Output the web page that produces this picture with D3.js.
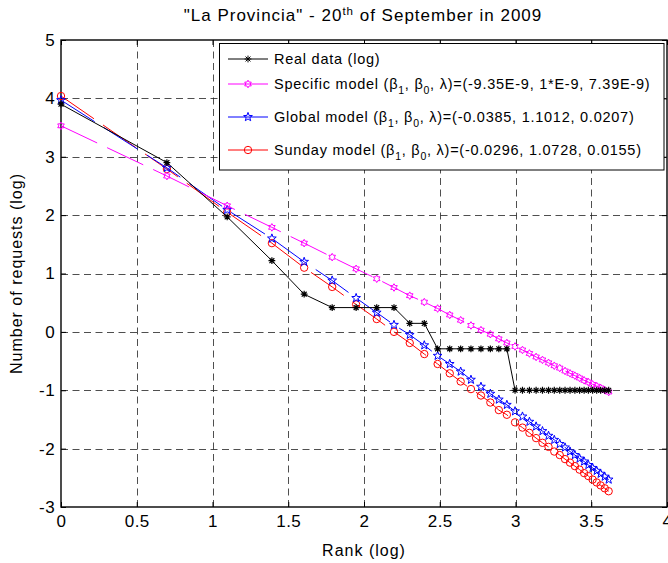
<!DOCTYPE html>
<html>
<head>
<meta charset="utf-8">
<script src="https://cdn.jsdelivr.net/npm/d3@7"></script>
<style>
    body { margin: 0; background: #fff; }
    text { font-family: "Liberation Sans", Arial, sans-serif; fill: #000; }
    .grid line { stroke: #222; stroke-width: 0.8; stroke-dasharray: 7,4.5; }
    .model { fill: none; stroke-width: 1; stroke-dasharray: 40,11; }
</style>
</head>
<body>
<div id="chart"></div>
<script>
// Data
// ============================================================================
const rankLog = [0, 0.699, 1.097, 1.392, 1.605, 1.79, 1.948, 2.084, 2.198, 2.302,
    2.398, 2.486, 2.566, 2.638, 2.706, 2.772, 2.834, 2.89, 2.943, 2.997,
    3.046, 3.092, 3.136, 3.178, 3.218, 3.256, 3.292, 3.327, 3.36, 3.392,
    3.423, 3.453, 3.481, 3.509, 3.536, 3.562, 3.589, 3.615];

const realData = [3.9, 2.9, 1.97, 1.22, 0.645, 0.416, 0.416, 0.416, 0.416, 0.146,
    0.146, -0.29, -0.29, -0.29, -0.29, -0.29, -0.29, -0.29, -0.29, -1,
    -1, -1, -1, -1, -1, -1, -1, -1, -1, -1,
    -1, -1, -1, -1, -1, -1, -1, -1];

const specificModel = [3.53, 2.67, 2.16, 1.79, 1.52, 1.28, 1.08, 0.91, 0.76, 0.62,
    0.51, 0.4, 0.29, 0.2, 0.11, 0.03, -0.04, -0.12, -0.19, -0.25,
    -0.31, -0.37, -0.43, -0.48, -0.53, -0.58, -0.62, -0.67, -0.71, -0.75,
    -0.79, -0.83, -0.86, -0.9, -0.93, -0.96, -1, -1.03];

const globalModel = [3.97, 2.81, 2.09, 1.6, 1.2, 0.88, 0.58, 0.33, 0.12, -0.05,
    -0.23, -0.41, -0.55, -0.68, -0.82, -0.94, -1.06, -1.16, -1.25, -1.36,
    -1.45, -1.54, -1.62, -1.7, -1.78, -1.85, -1.92, -1.98, -2.05, -2.11,
    -2.17, -2.22, -2.28, -2.33, -2.38, -2.43, -2.48, -2.53];

const sundayModel = [4.04, 2.79, 2.05, 1.52, 1.1, 0.77, 0.47, 0.22, 0.0, -0.19,
    -0.38, -0.55, -0.71, -0.85, -0.98, -1.09, -1.21, -1.34, -1.42, -1.55,
    -1.64, -1.73, -1.82, -1.9, -1.97, -2.05, -2.11, -2.18, -2.24, -2.3,
    -2.36, -2.42, -2.47, -2.53, -2.58, -2.63, -2.68, -2.73];

const xTicks = [0, 0.5, 1, 1.5, 2, 2.5, 3, 3.5, 4];
const yTicks = [-3, -2, -1, 0, 1, 2, 3, 4, 5];

// Define variables
// ============================================================================
const width = 668,
    height = 563,
    plot = {left: 61, right: 667, top: 40, bottom: 507};

// Marker paths
// ============================================================================
function asterisk(r) {
    const d = r * 0.72;
    return `M${-r},0L${r},0M0,${-r}L0,${r}M${-d},${-d}L${d},${d}M${-d},${d}L${d},${-d}`;
}
function starPath(points, rOut, rIn) {
    let p = "";
    for (let i = 0; i < points * 2; i++) {
        const r = i % 2 === 0 ? rOut : rIn;
        const a = -Math.PI / 2 + i * Math.PI / points;
        p += (i === 0 ? "M" : "L") + (r * Math.cos(a)).toFixed(2) + "," + (r * Math.sin(a)).toFixed(2);
    }
    return p + "Z";
}
function circle(r) {
    return `M${r},0A${r},${r} 0 1,1 ${-r},0A${r},${r} 0 1,1 ${r},0Z`;
}

const series = [
    {name: "Real data (log)", values: realData, color: "#000", marker: asterisk(3.4), model: false},
    {name: "Specific", values: specificModel, color: "#ff00ff", marker: starPath(6, 3.8, 2.2), model: true,
        label: ["Specific model (β", "1", ", β", "0", ", λ)=(-9.35E-9, 1*E-9, 7.39E-9)"]},
    {name: "Global", values: globalModel, color: "#0000ff", marker: starPath(5, 4.6, 1.9), model: true,
        label: ["Global model (β", "1", ", β", "0", ", λ)=(-0.0385, 1.1012, 0.0207)"]},
    {name: "Sunday", values: sundayModel, color: "#ff0000", marker: circle(3.7), model: true,
        label: ["Sunday model (β", "1", ", β", "0", ", λ)=(-0.0296, 1.0728, 0.0155)"]},
];

// Plot
// ============================================================================
const svg = d3.select("#chart")
    .append("svg")
        .attr("width", width)
        .attr("height", height);

// Scales
const xScale = d3.scaleLinear()
    .domain([0, 4])
    .range([plot.left, plot.right]);

const yScale = d3.scaleLinear()
    .domain([-3, 5])
    .range([plot.bottom, plot.top]);

// Grid
const grid = svg.append("g").attr("class", "grid");
grid.selectAll(".gx")
    .data(xTicks.slice(1, -1))
    .join("line")
        .attr("x1", d => Math.round(xScale(d)) + 0.5)
        .attr("x2", d => Math.round(xScale(d)) + 0.5)
        .attr("y1", plot.top)
        .attr("y2", plot.bottom);
grid.selectAll(".gy")
    .data(yTicks.slice(1, -1))
    .join("line")
        .attr("class", "gy")
        .attr("y1", d => Math.round(yScale(d)) + 0.5)
        .attr("y2", d => Math.round(yScale(d)) + 0.5)
        .attr("x1", plot.left)
        .attr("x2", plot.right);

// Axes (MATLAB style: ticks inside, box all round)
const fmt = d => String(d);
const styleTicks = g => g.selectAll("text")
    .style("font-size", "17px")
    .style("letter-spacing", "0.4px");

svg.append("g")
    .attr("transform", "translate(0," + plot.bottom + ")")
    .call(d3.axisBottom(xScale).tickValues(xTicks).tickSizeInner(-5).tickSizeOuter(0)
        .tickPadding(8).tickFormat(fmt))
    .call(g => g.select(".domain").remove())
    .call(styleTicks);

svg.append("g")
    .attr("transform", "translate(" + plot.left + ",0)")
    .call(d3.axisLeft(yScale).tickValues(yTicks).tickSizeInner(-5).tickSizeOuter(0)
        .tickPadding(6).tickFormat(fmt))
    .call(g => g.select(".domain").remove())
    .call(styleTicks);

svg.append("g")
    .attr("transform", "translate(0," + plot.top + ")")
    .call(d3.axisTop(xScale).tickValues(xTicks).tickSizeInner(-5).tickSizeOuter(0).tickFormat(""))
    .call(g => g.select(".domain").remove());

svg.append("g")
    .attr("transform", "translate(" + plot.right + ",0)")
    .call(d3.axisRight(yScale).tickValues(yTicks).tickSizeInner(-5).tickSizeOuter(0).tickFormat(""))
    .call(g => g.select(".domain").remove());

svg.append("rect")
    .attr("x", plot.left)
    .attr("y", plot.top)
    .attr("width", plot.right - plot.left)
    .attr("height", plot.bottom - plot.top)
    .attr("fill", "none")
    .attr("stroke", "#000")
    .attr("stroke-width", 1.4);

// Lines and markers
const line = d3.line()
    .x(d => xScale(d[0]))
    .y(d => yScale(d[1]));

series.slice().reverse().forEach(s => {
    const pts = rankLog.map((x, i) => [x, s.values[i]]);
    svg.append("path")
        .datum(pts)
            .attr("class", s.model ? "model" : "line")
            .attr("fill", "none")
            .attr("stroke", s.color)
            .attr("stroke-width", 1)
            .attr("d", line);
    svg.append("g")
        .selectAll("path")
        .data(pts)
        .join("path")
            .attr("transform", d => "translate(" + xScale(d[0]) + "," + yScale(d[1]) + ")")
            .attr("d", s.marker)
            .attr("fill", "none")
            .attr("stroke", s.color)
            .attr("stroke-width", s.model ? 1 : 1.2);
});

// Legend
const legend = svg.append("g");
legend.append("rect")
    .attr("x", 219.5)
    .attr("y", 43.5)
    .attr("width", 444.5)
    .attr("height", 126.5)
    .attr("fill", "#fff")
    .attr("stroke", "#000")
    .attr("stroke-width", 1);

const legendRows = [59, 84, 117, 150];
series.forEach((s, i) => {
    const y = legendRows[i];
    legend.append("line")
        .attr("x1", 228).attr("x2", 268)
        .attr("y1", y).attr("y2", y)
        .attr("stroke", s.color)
        .attr("stroke-width", 1);
    legend.append("path")
        .attr("transform", "translate(248," + y + ")")
        .attr("d", s.marker)
        .attr("fill", "none")
        .attr("stroke", s.color);
    const t = legend.append("text")
        .attr("x", 274)
        .attr("y", y + 5)
        .style("font-size", "14.5px")
        .style("letter-spacing", "0.75px");
    if (!s.label) {
        t.text(s.name);
    } else {
        t.append("tspan").text(s.label[0]);
        t.append("tspan").attr("dy", 5).style("font-size", "10.5px").text(s.label[1]);
        t.append("tspan").attr("dy", -5).text(s.label[2]);
        t.append("tspan").attr("dy", 5).style("font-size", "10.5px").text(s.label[3]);
        t.append("tspan").attr("dy", -5).text(s.label[4]);
    }
});

// Titles
const title = svg.append("text")
    .attr("x", 363)
    .attr("y", 21)
    .attr("text-anchor", "middle")
    .style("font-size", "17px")
    .style("letter-spacing", "1px");
title.append("tspan").text("\"La Provincia\" - 20");
title.append("tspan").attr("dy", -6).style("font-size", "11.5px").text("th");
title.append("tspan").attr("dy", 6).text(" of September in 2009");

svg.append("text")
    .attr("x", (plot.left + plot.right) / 2)
    .attr("y", 556)
    .attr("text-anchor", "middle")
    .style("font-size", "16px")
    .style("letter-spacing", "1px")
    .text("Rank (log)");

svg.append("text")
    .attr("transform", "translate(22," + (plot.top + plot.bottom) / 2 + ") rotate(-90)")
    .attr("text-anchor", "middle")
    .style("font-size", "16px")
    .style("letter-spacing", "1px")
    .text("Number of requests (log)");
</script>
</body>
</html>
